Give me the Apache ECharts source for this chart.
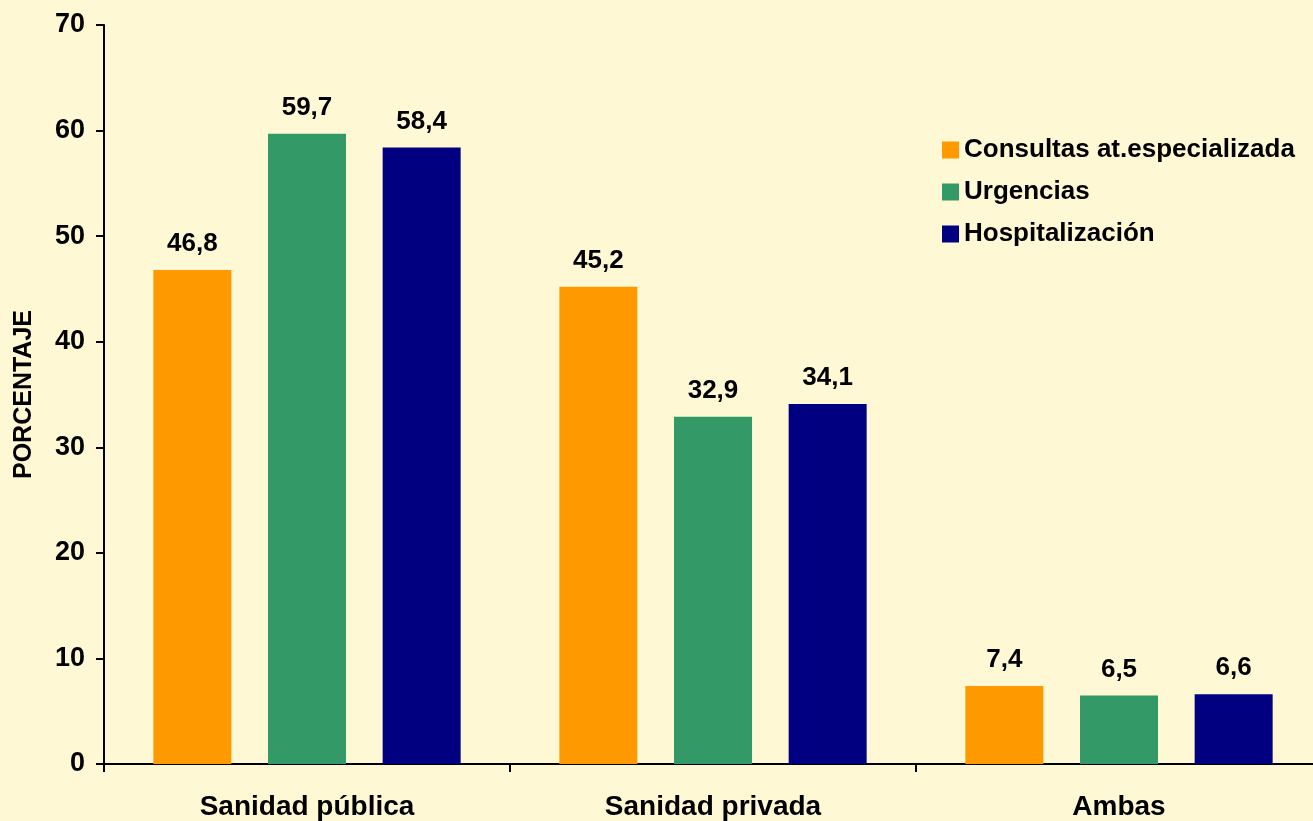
<!DOCTYPE html>
<html><head><meta charset="utf-8">
<script src="https://cdn.jsdelivr.net/npm/echarts@6/dist/echarts.min.js"></script>
<style>html,body{margin:0;padding:0;background:#FFF8D5;overflow:hidden;}#c{width:1322px;height:821px;}</style>
</head><body><div id="c"></div>
<script>
const categories = ['Sanidad pública', 'Sanidad privada', 'Ambas'];
const seriesNames = ['Consultas at.especializada', 'Urgencias', 'Hospitalización'];
const consultas = [46.8, 45.2, 7.4];
const urgencias = [59.7, 32.9, 6.5];
const hospitalizacion = [58.4, 34.1, 6.6];
const colors = ['#FF9900', '#339966', '#000080'];
const yTicks = [0, 10, 20, 30, 40, 50, 60, 70];

const font = 'Liberation Sans, Arial, sans-serif';
const chart = echarts.init(document.getElementById('c'));
const dataSets = [consultas, urgencias, hospitalizacion];
chart.setOption({
  backgroundColor: '#FFF8D5',
  animation: false,
  legend: {
    orient: 'vertical', left: 937, top: 132, itemGap: 16,
    itemWidth: 17, itemHeight: 17, icon: 'rect',
    textStyle: {fontFamily: font, fontWeight: 'bold', fontSize: 26, color: '#000', padding: [0,0,0,0]},
    data: seriesNames
  },
  grid: {left: 104, top: 25, width: 1218, height: 742, containLabel: false},
  xAxis: {
    type: 'category', data: categories,
    axisLine: {lineStyle: {color: '#000', width: 2}},
    axisTick: {show: true, length: 8, lineStyle: {color: '#000', width: 2}},
    axisLabel: {fontFamily: font, fontWeight: 'bold', fontSize: 28, color: '#000', margin: 29}
  },
  yAxis: {
    type: 'value', min: yTicks[0], max: yTicks[yTicks.length-1], interval: 10,
    name: 'PORCENTAJE', nameLocation: 'middle', nameGap: 67, nameRotate: 90,
    nameTextStyle: {fontFamily: font, fontWeight: 'bold', fontSize: 25, color: '#000'},
    axisLine: {show: true, lineStyle: {color: '#000', width: 2}},
    axisTick: {show: true, length: 8, lineStyle: {color: '#000', width: 2}},
    splitLine: {show: false},
    axisLabel: {fontFamily: font, fontWeight: 'bold', fontSize: 27, color: '#000', margin: 19}
  },
  series: dataSets.map((d, i) => ({
    name: seriesNames[i], type: 'bar', data: d,
    barWidth: 78, barGap: '47%',
    itemStyle: {color: colors[i]},
    label: {show: true, position: 'top', distance: 13,
      fontFamily: font, fontWeight: 'bold', fontSize: 26, color: '#000',
      formatter: p => p.value.toFixed(1).replace('.', ',')}
  }))
});
</script></body></html>
